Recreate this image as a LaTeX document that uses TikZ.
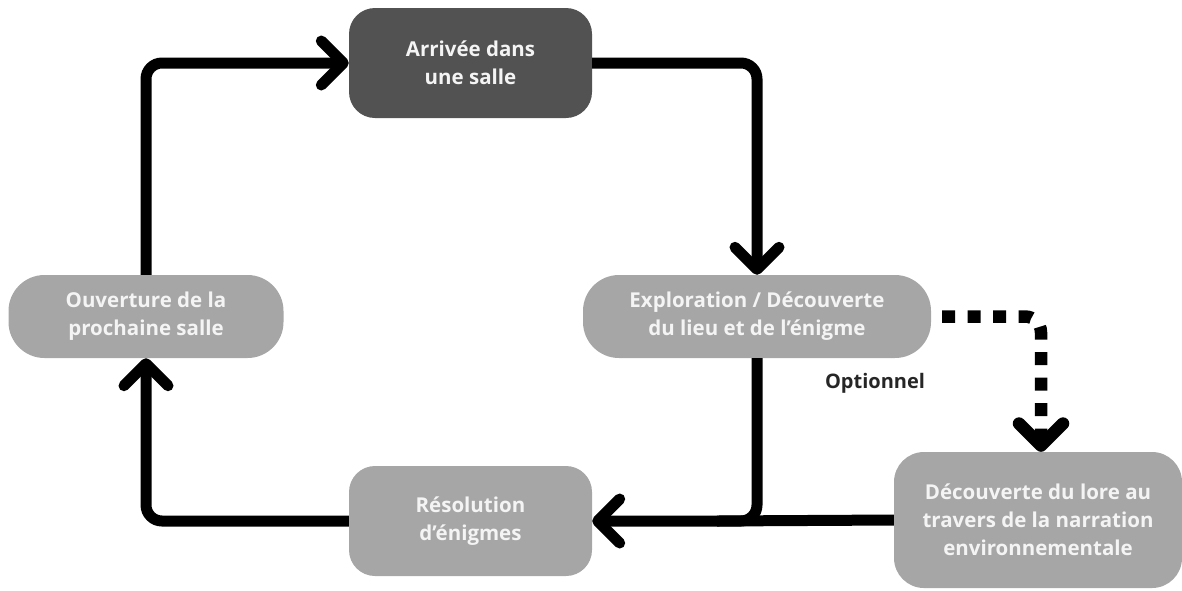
\documentclass[tikz,border=0pt]{standalone}
\usepackage{fontspec}
\setmainfont{Open Sans}
\usetikzlibrary{arrows.meta,calc}
\definecolor{darkbox}{HTML}{525252}
\definecolor{lightbox}{HTML}{A6A6A6}
\definecolor{boxtext}{HTML}{F4F4F4}
\tikzset{
  box/.style={fill=lightbox, text=boxtext, align=center, inner sep=0pt,
    font=\fontsize{20.5}{28}\selectfont\bfseries},
  darkstep/.style={box, fill=darkbox},
  conn/.style={line width=11pt, rounded corners=16pt,
    -{Straight Barb[length=22pt,width=44pt,line cap=round,line join=round]}},
  dotconn/.style={line width=12.5pt, rounded corners=16pt, dash pattern=on 13pt off 12.5pt,
    -{Straight Barb[length=22pt,width=44pt,line cap=round,line join=round]}},
}
\begin{document}
\begin{tikzpicture}[x=1pt,y=-1pt]
\useasboundingbox (0,0) rectangle (1182,590);
\node[darkstep, minimum width=243pt, minimum height=110pt, rounded corners=26pt] (arr) at (470.5,63) {Arrivée dans\\une salle};
\node[box, minimum width=348pt, minimum height=83pt, rounded corners=36pt] (expl) at (757,316.5) {Exploration / Découverte\\du lieu et de l’énigme};
\node[box, minimum width=275pt, minimum height=83pt, rounded corners=36pt] (ouv) at (146,316.5) {Ouverture de la\\prochaine salle};
\node[box, minimum width=243pt, minimum height=110pt, rounded corners=26pt] (res) at (470.5,521) {Résolution\\d’énigmes};
\node[box, minimum width=288pt, minimum height=136pt, rounded corners=30pt] (lore) at (1038,520) {Découverte du lore au\\travers de la narration\\environnementale};
\node[font=\fontsize{20}{24}\selectfont\bfseries, text=black!85] (opt) at (875,383) {Optionnel};
\coordinate (junc) at (expl.south |- res.east);
\draw[conn] (arr.east) -| (expl.north);
\draw[conn] (expl.south) |- (res.east);
\draw[line width=11pt] (lore.west) -- ([xshift=-40pt]junc);
\draw[conn] (res.west) -| (ouv.south);
\draw[conn] (ouv.north) |- (arr.west);
\draw[dotconn, shorten <=11pt] (expl.east) -| ([xshift=3pt]lore.north);
\end{tikzpicture}
\end{document}
